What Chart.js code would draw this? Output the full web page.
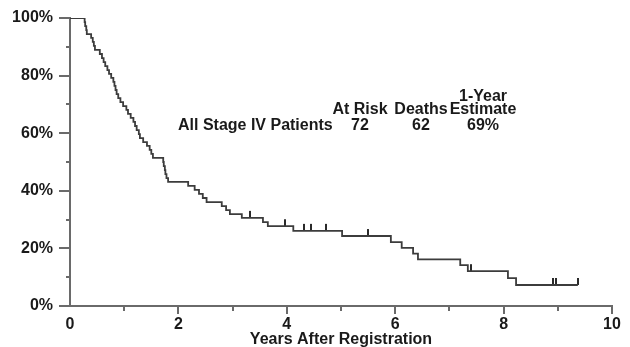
<!DOCTYPE html>
<html>
<head>
<meta charset="utf-8">
<script src="https://cdn.jsdelivr.net/npm/chart.js@4/dist/chart.umd.min.js"></script>
<style>
  html, body { margin: 0; padding: 0; background: #fff; }
  #wrap { width: 630px; height: 347px; }
</style>
</head>
<body>
<div id="wrap"><canvas id="km"></canvas></div>
<script>
// Kaplan-Meier steps (years, survival %)
var stepYears = [0, 0.27, 0.28, 0.30, 0.31, 0.39, 0.42, 0.44, 0.46, 0.55, 0.59, 0.62, 0.65, 0.69, 0.72,
    0.76, 0.80, 0.82, 0.84, 0.86, 0.89, 0.93, 0.98, 1.04, 1.07, 1.12, 1.17, 1.20, 1.23, 1.27, 1.29,
    1.35, 1.42, 1.47, 1.50, 1.53, 1.72, 1.73, 1.75, 1.76, 1.78, 1.81, 2.18, 2.30, 2.38, 2.45, 2.52,
    2.80, 2.88, 2.95, 3.17, 3.56, 3.65, 4.12, 5.02, 5.92, 6.12, 6.33, 6.42, 7.20, 7.34, 8.08, 8.23, 9.37];
var stepSurvival = [100, 98.6, 97.2, 95.8, 94.4, 93.1, 91.7, 90.3, 88.9, 87.5, 86.1, 84.7, 83.3, 81.9, 80.6,
    79.2, 77.8, 76.4, 75.0, 73.6, 72.2, 70.8, 69.4, 68.1, 66.7, 65.3, 63.9, 62.5, 61.1, 59.7, 58.3,
    56.9, 55.6, 54.2, 52.8, 51.4, 50.0, 48.6, 47.2, 45.8, 44.4, 43.1, 41.7, 40.3, 38.9, 37.5, 36.1,
    34.7, 33.3, 31.9, 30.6, 29.1, 27.7, 26.1, 24.3, 22.2, 20.2, 18.2, 16.2, 14.2, 12.1, 9.7, 7.3, 7.3];

// censored patients
var censorYears = [3.32, 3.97, 4.32, 4.45, 4.72, 5.50, 7.40, 8.91, 8.97, 9.37];
var censorSurvival = [30.6, 27.7, 26.1, 26.1, 26.1, 24.3, 12.1, 7.3, 7.3, 7.3];

var xTicks = [0, 2, 4, 6, 8, 10];
var yTicks = [0, 20, 40, 60, 80, 100];

var legendHead = ['At Risk', 'Deaths', '1-Year'];
var legendHead2 = ['', '', 'Estimate'];
var groupName = 'All Stage IV Patients';
var groupValues = ['72', '62', '69%'];

var FONT = '"Liberation Sans", Arial, sans-serif';
var TEXT_COLOR = '#1a1a1a';
var AXIS_COLOR = '#6a6a6a';
var LINE_COLOR = '#3c3c3c';

// little tick that sticks up from the curve
function censorMark() {
    var c = document.createElement('canvas');
    c.width = 2; c.height = 16;
    var g = c.getContext('2d');
    g.fillStyle = '#2a2a2a';
    g.fillRect(0, 1, 2, 7);
    return c;
}

var curve = stepYears.map(function (t, i) { return { x: t, y: stepSurvival[i] }; });
var censored = censorYears.map(function (t, i) { return { x: t, y: censorSurvival[i] }; });

var axisTicks = {
    id: 'axisTicks',
    afterDraw: function (chart) {
        var ctx = chart.ctx, a = chart.chartArea;
        var xs = chart.scales.x, ys = chart.scales.y;
        ctx.save();
        ctx.strokeStyle = AXIS_COLOR;
        ctx.lineWidth = 2;
        for (var v = 0; v <= 100; v += 10) {
            var py = Math.round(ys.getPixelForValue(v));
            var len = yTicks.indexOf(v) >= 0 ? 11 : 4;
            ctx.beginPath();
            ctx.moveTo(a.left - len, py);
            ctx.lineTo(a.left, py);
            ctx.stroke();
        }
        for (var t = 1; t <= 10; t++) {
            var px = Math.round(xs.getPixelForValue(t));
            var l2 = xTicks.indexOf(t) >= 0 ? 8 : 5;
            ctx.beginPath();
            ctx.moveTo(px, a.bottom);
            ctx.lineTo(px, a.bottom + l2);
            ctx.stroke();
        }
        ctx.restore();
    }
};

var legendText = {
    id: 'legendText',
    afterDraw: function (chart) {
        var ctx = chart.ctx;
        var cols = [360, 421, 483];
        ctx.save();
        ctx.fillStyle = TEXT_COLOR;
        ctx.font = 'bold 16px ' + FONT;
        ctx.textBaseline = 'alphabetic';
        ctx.textAlign = 'left';
        ctx.fillText(groupName, 178, 130);
        ctx.textAlign = 'center';
        cols.forEach(function (cx, i) {
            if (legendHead2[i]) {
                ctx.fillText(legendHead[i], cx, 101);
                ctx.fillText(legendHead2[i], cx, 114);
            } else {
                ctx.fillText(legendHead[i], cx, 114);
            }
            ctx.fillText(groupValues[i], cx, 130);
        });
        ctx.restore();
    }
};

new Chart(document.getElementById('km'), {
    type: 'line',
    data: {
        datasets: [
            {
                data: curve,
                stepped: true,
                borderColor: LINE_COLOR,
                borderWidth: 1.8,
                pointRadius: 0,
                fill: false
            },
            {
                type: 'scatter',
                data: censored,
                pointStyle: censorMark(),
                pointRadius: 4,
                showLine: false
            }
        ]
    },
    options: {
        responsive: true,
        maintainAspectRatio: false,
        animation: false,
        layout: { padding: { top: 18, right: 18, left: 0, bottom: 0 } },
        plugins: { legend: { display: false }, tooltip: { enabled: false } },
        scales: {
            x: {
                type: 'linear',
                min: 0,
                max: 10,
                afterFit: function (s) {
                    s.height = 41;
                    s.paddingLeft = 0; s.paddingRight = 0;
                },
                grid: { display: false, drawTicks: false },
                border: { display: true, color: AXIS_COLOR, width: 2 },
                ticks: {
                    stepSize: 1,
                    padding: 9,
                    color: TEXT_COLOR,
                    font: { family: FONT, size: 16, weight: 'bold' },
                    maxRotation: 0,
                    callback: function (v) { return xTicks.indexOf(v) >= 0 ? String(v) : ''; }
                },
                title: {
                    display: true,
                    text: 'Years After Registration',
                    color: TEXT_COLOR,
                    font: { family: FONT, size: 16, weight: 'bold' },
                    padding: { top: 0, bottom: -2 }
                }
            },
            y: {
                min: 0,
                max: 100,
                afterFit: function (s) {
                    s.width = 70;
                    s.paddingTop = 0; s.paddingBottom = 0;
                },
                grid: { display: false, drawTicks: false },
                border: { display: true, color: AXIS_COLOR, width: 2 },
                ticks: {
                    stepSize: 10,
                    padding: 17,
                    color: TEXT_COLOR,
                    font: { family: FONT, size: 16, weight: 'bold' },
                    callback: function (v) { return yTicks.indexOf(v) >= 0 ? v + '%' : ''; }
                }
            }
        }
    },
    plugins: [axisTicks, legendText]
});
</script>
</body>
</html>
